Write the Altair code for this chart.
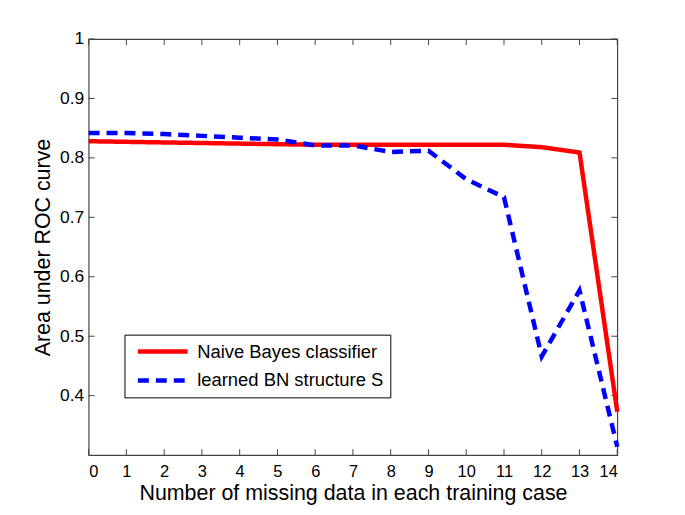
import altair as alt
import pandas as pd

x_vals = list(range(15))
naive_bayes = [0.828, 0.827, 0.826, 0.825, 0.824, 0.823, 0.822, 0.822, 0.822, 0.822, 0.822, 0.822, 0.818, 0.809, 0.373]
learned_bn = [0.842, 0.842, 0.840, 0.837, 0.834, 0.831, 0.821, 0.821, 0.810, 0.812, 0.764, 0.734, 0.466, 0.577, 0.314]
series_names = ["Naive Bayes classifier", "learned BN structure S"]
x_ticks = list(range(15))
y_ticks = [0.4, 0.5, 0.6, 0.7, 0.8, 0.9, 1.0]

W, H = 531, 418
FONT = "Liberation Sans"

rows = []
for i, x in enumerate(x_vals):
    rows.append({"x": x, "auc": naive_bayes[i], "series": series_names[0]})
    rows.append({"x": x, "auc": learned_bn[i], "series": series_names[1]})
df = pd.DataFrame(rows)

xscale = alt.Scale(domain=[0, 14], nice=False, zero=False)
yscale = alt.Scale(domain=[0.3, 1.0], nice=False, zero=False)

xaxis = alt.Axis(values=x_ticks, title="Number of missing data in each training case",
                 ticks=False, domain=False, grid=False, labelPadding=8,
                 titlePadding=3, labelFontSize=16.5, titleFontSize=21.5)
yaxis = alt.Axis(values=y_ticks, format=".1~f", title="Area under ROC curve",
                 ticks=False, domain=False, grid=False, labelPadding=5,
                 titlePadding=5, labelFontSize=17.5, titleFontSize=21.5)

leg = alt.Legend(title=None, labelExpr="datum.label + '     '")

lines = alt.Chart(df).mark_line(strokeWidth=4.5).encode(
    x=alt.X("x:Q", scale=xscale, axis=xaxis),
    y=alt.Y("auc:Q", scale=yscale, axis=yaxis),
    color=alt.Color("series:N", scale=alt.Scale(domain=series_names, range=["#ff0000", "#0000ff"]),
                    legend=leg),
    strokeDash=alt.StrokeDash("series:N", scale=alt.Scale(domain=series_names, range=[[1, 0], [11, 7]]),
                              legend=leg),
)

xt = pd.DataFrame({"x": x_ticks})
yt = pd.DataFrame({"auc": y_ticks})
tick_color = "#444444"

xb = alt.Chart(xt).mark_rule(color=tick_color, strokeWidth=1).encode(
    x=alt.X("x:Q", scale=xscale, axis=xaxis), y=alt.value(H), y2=alt.value(H - 6))
xtop = alt.Chart(xt).mark_rule(color=tick_color, strokeWidth=1).encode(
    x=alt.X("x:Q", scale=xscale, axis=xaxis), y=alt.value(0), y2=alt.value(6))
yl = alt.Chart(yt).mark_rule(color=tick_color, strokeWidth=1).encode(
    y=alt.Y("auc:Q", scale=yscale, axis=yaxis), x=alt.value(0), x2=alt.value(6))
yr = alt.Chart(yt).mark_rule(color=tick_color, strokeWidth=1).encode(
    y=alt.Y("auc:Q", scale=yscale, axis=yaxis), x=alt.value(W), x2=alt.value(W - 6))

chart = alt.layer(xb, xtop, yl, yr, lines).properties(
    width=W, height=H,
    autosize=alt.AutoSizeParams(type="none"),
    padding={"left": 81, "top": 30, "right": 60, "bottom": 52},
).configure_view(
    stroke="#444444", strokeWidth=1.2
).configure_axis(
    labelFont=FONT, titleFont=FONT, labelColor="#000000", titleColor="#000000",
    titleFontWeight="normal"
).configure_legend(
    orient="none", legendX=36, legendY=297,
    strokeColor="#000000", fillColor="#ffffff", padding=6,
    symbolType="stroke", symbolSize=2500, symbolStrokeWidth=4.5, symbolOffset=5,
    labelFont=FONT, labelFontSize=18.5, labelColor="#000000", labelLimit=400,
    rowPadding=7, labelOffset=7, cornerRadius=0, clipHeight=22
)

chart.save("out.html", embed_options={"renderer": "svg", "actions": False})
